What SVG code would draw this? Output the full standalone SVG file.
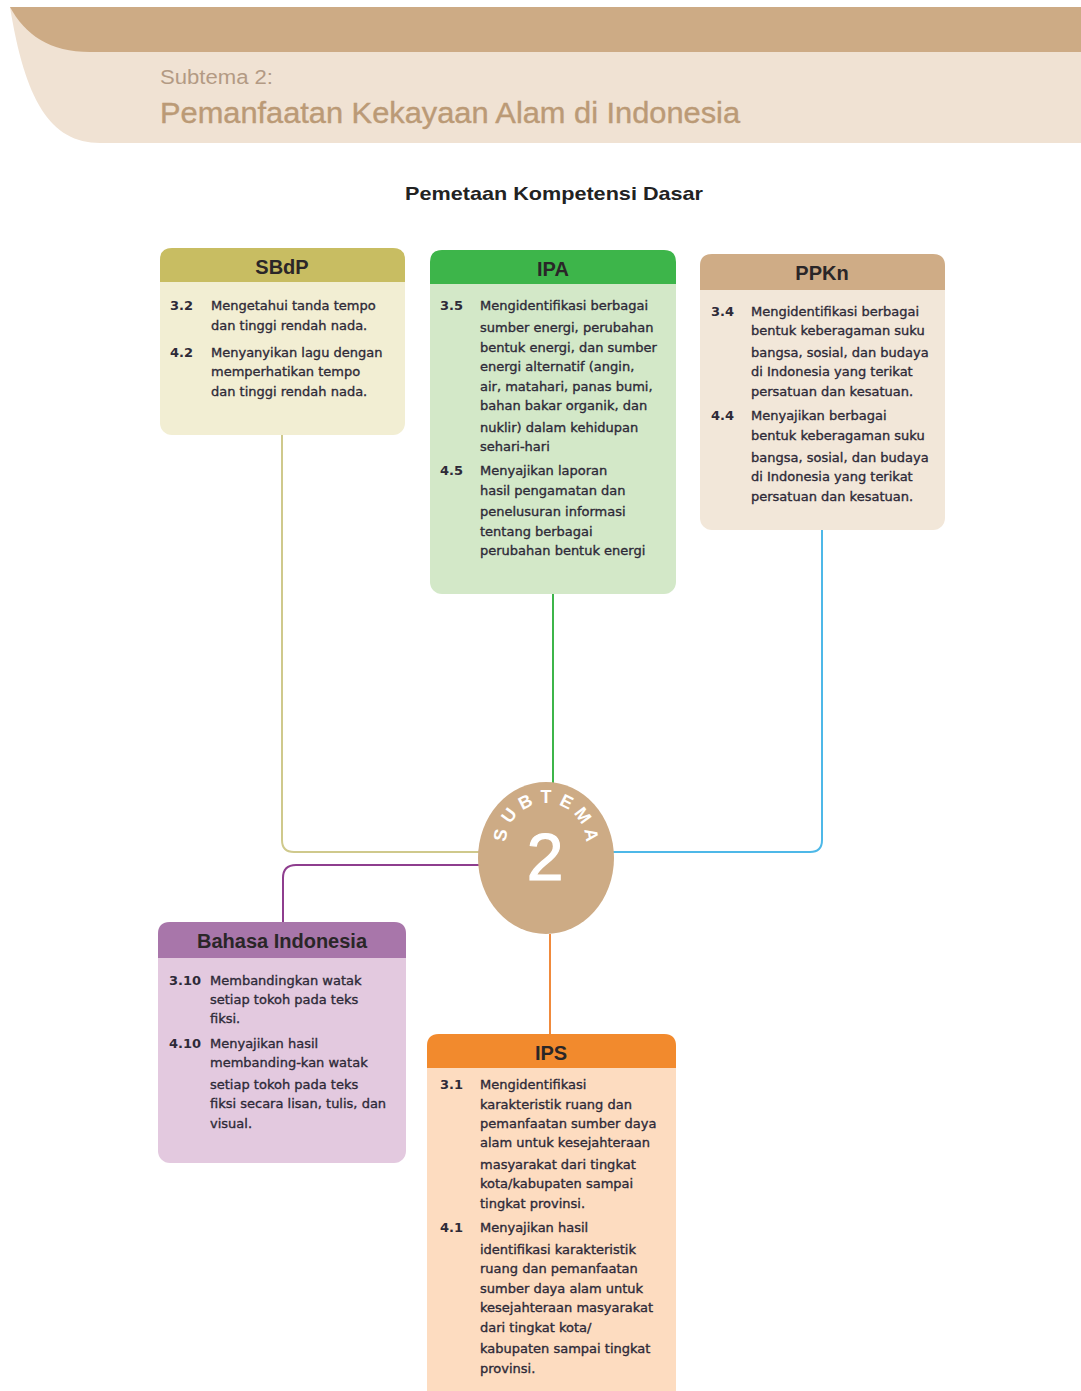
<svg xmlns="http://www.w3.org/2000/svg" width="1081" height="1391" viewBox="0 0 1081 1391">
<style>
.t{font-family:"DejaVu Sans","Liberation Sans",sans-serif;font-size:13px;fill:#2e2a38;stroke:#2e2a38;stroke-width:0.35;}
.n{font-family:"DejaVu Sans","Liberation Sans",sans-serif;font-size:13px;fill:#2e2a38;font-weight:bold;}
.h{font-family:"Liberation Sans",Arial,sans-serif;font-size:20px;font-weight:bold;fill:#2a2628;text-anchor:middle;}
.c{fill:none;stroke-width:2;}
.sub{font-family:"Liberation Sans",Arial,sans-serif;font-size:18px;font-weight:bold;fill:#ffffff;text-anchor:middle;}
</style>
<rect width="1081" height="1391" fill="#ffffff"/>
<g id="header">
<path d="M10,7 H1081 V143 H100 C50,143 25,100 10,7 Z" fill="#f0e2d3"/>
<path d="M10,7 H1081 V52 H90 C50,52 25,35 10,7 Z" fill="#cdab85"/>
<text x="160" y="84" font-family="Liberation Sans,Arial,sans-serif" font-size="20" fill="#b39a84" textLength="113" lengthAdjust="spacingAndGlyphs">Subtema 2:</text>
<text x="160" y="123" font-family="Liberation Sans,Arial,sans-serif" font-size="29" fill="#bb9a76" stroke="#bb9a76" stroke-width="0.4" textLength="580" lengthAdjust="spacingAndGlyphs">Pemanfaatan Kekayaan Alam di Indonesia</text>
</g>
<text id="title" x="554" y="200" text-anchor="middle" font-family="Liberation Sans,Arial,sans-serif" font-size="19" font-weight="bold" fill="#222" textLength="298" lengthAdjust="spacingAndGlyphs">Pemetaan Kompetensi Dasar</text>

<g id="connectors">
<path class="c" stroke="#cfc98c" d="M282,435 V840 Q282,852 294,852 H480"/>
<path class="c" stroke="#4db8e8" d="M822,530 V840 Q822,852 810,852 H612"/>
<path class="c" stroke="#3db54a" d="M553,594 V784"/>
<path class="c" stroke="#8e3d8e" d="M480,865 H296 Q283,865 283,878 V922"/>
<path class="c" stroke="#f08a3c" d="M550,934 V1034"/>
</g>

<g id="sbdp">
<rect x="160" y="248" width="245" height="187" rx="12" fill="#f2eed3"/>
<path d="M160,282 V260 Q160,248 172,248 H393 Q405,248 405,260 V282 Z" fill="#c8bd62"/>
<text class="h" x="282" y="274">SBdP</text>
<text class="n" x="170" y="310">3.2</text>
<text class="t" x="211" y="310">Mengetahui tanda tempo</text>
<text class="t" x="211" y="330">dan tinggi rendah nada.</text>
<text class="n" x="170" y="357">4.2</text>
<text class="t" x="211" y="357">Menyanyikan lagu dengan</text>
<text class="t" x="211" y="376">memperhatikan tempo</text>
<text class="t" x="211" y="396">dan tinggi rendah nada.</text>
</g>

<g id="ipa">
<rect x="430" y="250" width="246" height="344" rx="12" fill="#d3e8c8"/>
<path d="M430,284 V262 Q430,250 442,250 H664 Q676,250 676,262 V284 Z" fill="#3db54a"/>
<text class="h" x="553" y="276">IPA</text>
<text class="n" x="440" y="310">3.5</text>
<text class="t" x="480" y="310">Mengidentifikasi berbagai</text>
<text class="t" x="480" y="332">sumber energi, perubahan</text>
<text class="t" x="480" y="352">bentuk energi, dan sumber</text>
<text class="t" x="480" y="371">energi alternatif (angin,</text>
<text class="t" x="480" y="391">air, matahari, panas bumi,</text>
<text class="t" x="480" y="410">bahan bakar organik, dan</text>
<text class="t" x="480" y="432">nuklir) dalam kehidupan</text>
<text class="t" x="480" y="451">sehari-hari</text>
<text class="n" x="440" y="475">4.5</text>
<text class="t" x="480" y="475">Menyajikan laporan</text>
<text class="t" x="480" y="495">hasil pengamatan dan</text>
<text class="t" x="480" y="516">penelusuran informasi</text>
<text class="t" x="480" y="536">tentang berbagai</text>
<text class="t" x="480" y="555">perubahan bentuk energi</text>
</g>

<g id="ppkn">
<rect x="700" y="254" width="245" height="276" rx="12" fill="#f2e7d9"/>
<path d="M700,290 V266 Q700,254 712,254 H933 Q945,254 945,266 V290 Z" fill="#cfac86"/>
<text class="h" x="822" y="280">PPKn</text>
<text class="n" x="711" y="316">3.4</text>
<text class="t" x="751" y="316">Mengidentifikasi berbagai</text>
<text class="t" x="751" y="335">bentuk keberagaman suku</text>
<text class="t" x="751" y="357">bangsa, sosial, dan budaya</text>
<text class="t" x="751" y="376">di Indonesia yang terikat</text>
<text class="t" x="751" y="396">persatuan dan kesatuan.</text>
<text class="n" x="711" y="420">4.4</text>
<text class="t" x="751" y="420">Menyajikan berbagai</text>
<text class="t" x="751" y="440">bentuk keberagaman suku</text>
<text class="t" x="751" y="462">bangsa, sosial, dan budaya</text>
<text class="t" x="751" y="481">di Indonesia yang terikat</text>
<text class="t" x="751" y="501">persatuan dan kesatuan.</text>
</g>

<g id="subtema">
<ellipse cx="546" cy="858" rx="68" ry="76" fill="#cdab85"/>
<text class="sub" transform="translate(499.7,834.8) rotate(-80)" y="7">S</text>
<text class="sub" transform="translate(508.3,814.9) rotate(-53.3)" y="7">U</text>
<text class="sub" transform="translate(524.9,801) rotate(-26.7)" y="7">B</text>
<text class="sub" transform="translate(546,796)" y="7">T</text>
<text class="sub" transform="translate(567.1,801) rotate(26.7)" y="7">E</text>
<text class="sub" transform="translate(583.7,814.9) rotate(53.3)" y="7">M</text>
<text class="sub" transform="translate(592.3,834.8) rotate(80)" y="7">A</text>
<text x="545" y="880" text-anchor="middle" font-family="Liberation Sans,Arial,sans-serif" font-size="66" fill="#ffffff" stroke="#ffffff" stroke-width="1.2">2</text>
</g>

<g id="bahasa">
<rect x="158" y="922" width="248" height="241" rx="12" fill="#e3c9df"/>
<path d="M158,958 V934 Q158,922 170,922 H394 Q406,922 406,934 V958 Z" fill="#a876aa"/>
<text class="h" x="282" y="948">Bahasa Indonesia</text>
<text class="n" x="169" y="985">3.10</text>
<text class="t" x="210" y="985">Membandingkan watak</text>
<text class="t" x="210" y="1004">setiap tokoh pada teks</text>
<text class="t" x="210" y="1023">fiksi.</text>
<text class="n" x="169" y="1048">4.10</text>
<text class="t" x="210" y="1048">Menyajikan hasil</text>
<text class="t" x="210" y="1067">membanding-kan watak</text>
<text class="t" x="210" y="1089">setiap tokoh pada teks</text>
<text class="t" x="210" y="1108">fiksi secara lisan, tulis, dan</text>
<text class="t" x="210" y="1128">visual.</text>
</g>

<g id="ips">
<rect x="427" y="1034" width="249" height="370" rx="12" fill="#fddcc0"/>
<path d="M427,1068 V1046 Q427,1034 439,1034 H664 Q676,1034 676,1046 V1068 Z" fill="#f28a2d"/>
<text class="h" x="551" y="1060">IPS</text>
<text class="n" x="440" y="1089">3.1</text>
<text class="t" x="480" y="1089">Mengidentifikasi</text>
<text class="t" x="480" y="1109">karakteristik ruang dan</text>
<text class="t" x="480" y="1128">pemanfaatan sumber daya</text>
<text class="t" x="480" y="1147">alam untuk kesejahteraan</text>
<text class="t" x="480" y="1169">masyarakat dari tingkat</text>
<text class="t" x="480" y="1188">kota/kabupaten sampai</text>
<text class="t" x="480" y="1208">tingkat provinsi.</text>
<text class="n" x="440" y="1232">4.1</text>
<text class="t" x="480" y="1232">Menyajikan hasil</text>
<text class="t" x="480" y="1254">identifikasi karakteristik</text>
<text class="t" x="480" y="1273">ruang dan pemanfaatan</text>
<text class="t" x="480" y="1293">sumber daya alam untuk</text>
<text class="t" x="480" y="1312">kesejahteraan masyarakat</text>
<text class="t" x="480" y="1332">dari tingkat kota/</text>
<text class="t" x="480" y="1353">kabupaten sampai tingkat</text>
<text class="t" x="480" y="1373">provinsi.</text>
</g>
</svg>
